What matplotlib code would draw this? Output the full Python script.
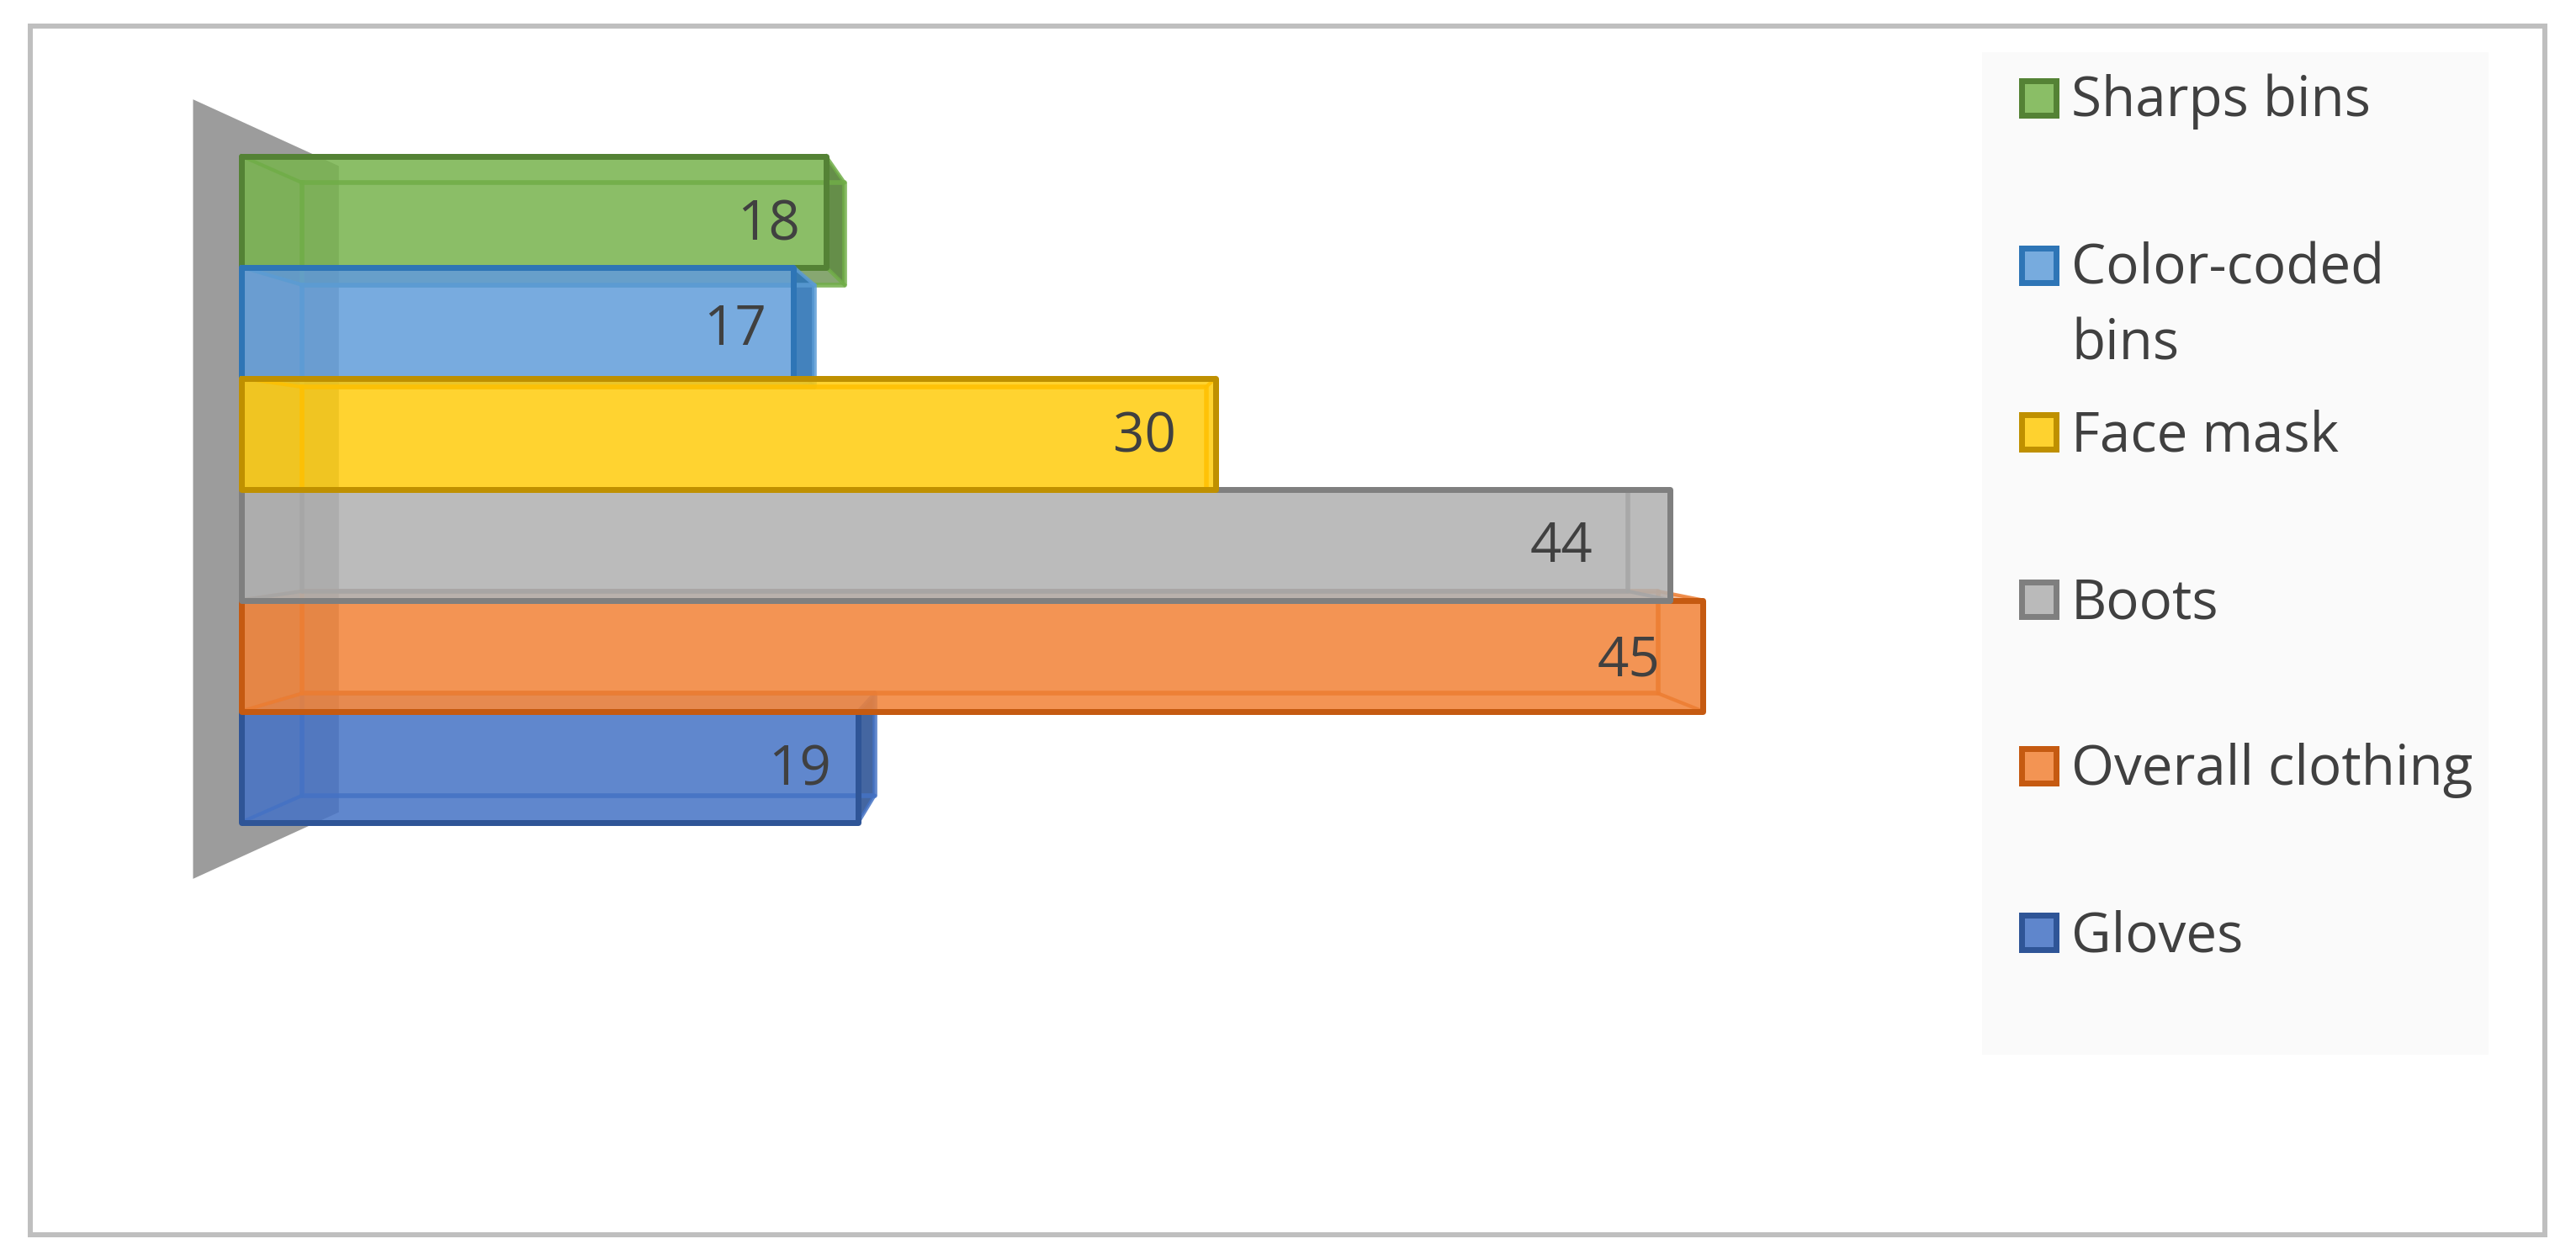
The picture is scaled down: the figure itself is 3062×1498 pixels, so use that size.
import matplotlib
matplotlib.use("Agg")
import matplotlib.pyplot as plt
from matplotlib.patches import Polygon, Rectangle
from matplotlib.colors import to_rgba

# ---- data (top to bottom, as in the reference) ----
categories = ["Sharps bins", "Color-coded\nbins", "Face mask", "Boots", "Overall clothing", "Gloves"]
values = [18, 17, 30, 44, 45, 19]
fills = ["#78B44E", "#629EDA", "#FFCC0E", "#B0B0B0", "#F28338", "#4673C5"]
edges = ["#548235", "#2E75B6", "#BF9000", "#7F7F7F", "#C55A11", "#2F5597"]
inner = ["#70AD47", "#5B9BD5", "#FFC000", "#A5A5A5", "#ED7D31", "#4472C4"]
draw_order = [0, 1, 5, 4, 3, 2]
label_dx_px = [-31, -32, -47, -92, -50, -32]
label_dy_px = [-17, -10, -5, -4, -7, -5]

W, H = 3062, 1498
DPI = 100
PX = 72 / DPI
X0, UX = 287, 38.6       # pixel of value 0, pixels per unit
Y0, UY = 251.5, 132.0    # pixel centre of first row, pixels per row
LEGEND_Y = [93, 292, 490, 689, 887, 1085]
TEXT_BASE = [138, 338, 536, 735, 933, 1131]
TEXT_X = 2462
TEXT_PX = 65.5

plt.rcParams["font.family"] = ["Open Sans", "DejaVu Sans"]
fig = plt.figure(figsize=(W / DPI, H / DPI), dpi=DPI, facecolor="white")
ax = fig.add_axes([0, 0, 1, 1])
ax.set_xlim(-X0 / UX, (W - X0) / UX)
ax.set_ylim((H - Y0) / UY, -Y0 / UY)
ax.axis("off")

# perspective of the pseudo-3D chart, in data units
VX, VY = 25.9, 2.5
KX, KY = 0.072, 0.08


def back(x, y):
    return x + KX * (VX - x), y + KY * (VY - y)


# grey side wall
wall_l, wall_r = -1.49, 3.0
ax.add_patch(Polygon([(wall_l, VY - 3.51), (wall_r, VY - 2.91), (wall_r, VY + 2.91), (wall_l, VY + 3.51)],
                     closed=True, fc="#9C9C9C", ec="none", zorder=1))

lw = 7 * PX
for rank, i in enumerate(draw_order):
    v = values[i]
    z = 2 + rank
    top, bot = i - 0.5, i + 0.5
    fc, ec, ic = fills[i], edges[i], inner[i]
    xb0, tb = back(0, top)
    xb1, bb = back(v, bot)
    # outward faces
    if tb < top:
        ax.add_patch(Polygon([(0, top), (xb0, tb), (xb1, tb), (v, top)], fc=to_rgba(ic, 0.5), ec="none", zorder=z))
    if bb > bot:
        ax.add_patch(Polygon([(0, bot), (xb0, bb), (xb1, bb), (v, bot)], fc=to_rgba(ec, 0.7), ec="none", zorder=z))
    if xb1 > v:
        ax.add_patch(Polygon([(v, top), (xb1, tb), (xb1, bb), (v, bot)], fc=to_rgba(ec, 0.9), ec="none", zorder=z))
    # front face
    ax.barh(i, v, height=1, left=0, color=to_rgba(fc, 0.86), edgecolor="none", zorder=z + 0.1)
    # inner (back) wireframe
    lc = to_rgba(ic, 0.85)
    ax.plot([xb0, xb1, xb1, xb0, xb0], [tb, tb, bb, bb, tb], color=lc, lw=lw * 0.8, zorder=z + 0.2)
    for xa, xc, ya, yc in [(0, xb0, top, tb), (0, xb0, bot, bb), (v, xb1, top, tb), (v, xb1, bot, bb)]:
        ax.plot([xa, xc], [ya, yc], color=lc, lw=lw * 0.6, zorder=z + 0.2)
    # front outline
    ax.plot([0, v, v, 0, 0], [top, top, bot, bot, top], color=ec, lw=lw, zorder=z + 0.3,
            solid_joinstyle="round", solid_capstyle="round")
    ax.annotate(str(v), (v, i), xytext=(label_dx_px[i] * PX, label_dy_px[i] * PX), textcoords="offset points",
                ha="right", va="center", fontsize=TEXT_PX * PX, color="#404040", zorder=20)

# legend panel and outer frame
fig.add_artist(Rectangle((2356 / W, 1 - 1254 / H), (2958 - 2356) / W, (1254 - 62) / H,
                         transform=fig.transFigure, fc="#FAFAFA", ec="none", zorder=0.5))
for i, name in enumerate(categories):
    fig.add_artist(Rectangle((2402.5 / W, 1 - (LEGEND_Y[i] + 44) / H), 41 / W, 41 / H, transform=fig.transFigure,
                             fc=to_rgba(fills[i], 0.86), ec=edges[i], lw=7 * PX, zorder=2))
    for j, line in enumerate(name.split("\n")):
        fig.text(TEXT_X / W, 1 - (TEXT_BASE[i] + 90 * j) / H, line, ha="left", va="baseline",
                 fontsize=TEXT_PX * PX, color="#404040", zorder=3)
fig.add_artist(Rectangle((36 / W, 1 - 1468 / H), (3025 - 36) / W, (1468 - 31) / H, transform=fig.transFigure,
                         fc="none", ec="#BFBFBF", lw=6 * PX, zorder=5))

fig.savefig("out.png", dpi=DPI, facecolor="white")
